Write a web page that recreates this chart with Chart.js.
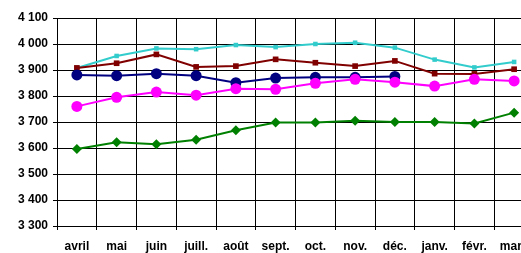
<!DOCTYPE html>
<html>
<head>
<meta charset="utf-8">
<script src="https://cdn.jsdelivr.net/npm/chart.js@4/dist/chart.umd.min.js"></script>
<style>
  html, body { margin: 0; padding: 0; background: #fff; overflow: hidden; }
  #wrap { width: 521px; height: 253px; overflow: hidden; }
</style>
</head>
<body>
<div id="wrap"><canvas id="chart" width="545" height="253"></canvas></div>
<script>
var months, cyanValues, redValues, navyValues, pinkValues, greenValues, yTicks;

months = ['avril', 'mai', 'juin', 'juill.', 'août', 'sept.', 'oct.', 'nov.', 'déc.', 'janv.', 'févr.', 'mars'];

cyanValues = [3908, 3954, 3983, 3980, 3996, 3988, 4000, 4005, 3986, 3940, 3910, 3931];
redValues = [3908, 3926, 3960, 3912, 3915, 3941, 3928, 3915, 3935, 3886, 3885, 3903];
navyValues = [3881, 3878, 3886, 3878, 3851, 3869, 3872, 3872, 3875, null, null, null];
pinkValues = [3760, 3795, 3815, 3803, 3828, 3826, 3849, 3864, 3853, 3838, 3864, 3858];
greenValues = [3596, 3622, 3614, 3632, 3668, 3698, 3698, 3705, 3700, 3700, 3694, 3736];

yTicks = { min: 3300, max: 4100, step: 100 };

function series(values, color, shape, radius) {
  return {
    data: values,
    borderColor: color,
    backgroundColor: color,
    borderWidth: 2,
    pointStyle: shape,
    pointRadius: radius,
    pointBorderWidth: 0,
    tension: 0,
    spanGaps: false
  };
}

function formatThousands(value) {
  var s = String(value);
  return s.replace(/\B(?=(\d{3})+(?!\d))/g, ' ');
}

var font = { family: '"Liberation Sans", Arial, sans-serif', size: 12, weight: 'bold' };

new Chart(document.getElementById('chart'), {
  type: 'line',
  data: {
    labels: months,
    datasets: [
      series(greenValues, '#008000', 'rectRot', 5),
      series(pinkValues, '#FF00FF', 'circle', 5.5),
      series(navyValues, '#000080', 'circle', 5.5),
      series(redValues, '#800000', 'rect', 4),
      series(cyanValues, '#33CCCC', 'rect', 3.2)
    ]
  },
  options: {
    responsive: false,
    animation: false,
    events: [],
    layout: { padding: { top: 18, right: 11, left: 0, bottom: 0 } },
    plugins: { legend: { display: false }, tooltip: { enabled: false } },
    scales: {
      x: {
        offset: true,
        grid: { offset: true, color: '#000', lineWidth: 1, tickLength: 4, drawTicks: true },
        border: { color: '#000', width: 1 },
        ticks: { color: '#000', font: font, padding: 9, maxRotation: 0, autoSkip: false },
        afterFit: function(scale) { scale.height = 27; }
      },
      y: {
        min: yTicks.min,
        max: yTicks.max,
        grid: { color: '#000', lineWidth: 1, tickLength: 4 },
        border: { color: '#000', width: 1 },
        ticks: {
          stepSize: yTicks.step,
          color: '#000',
          font: font,
          padding: 5,
          callback: function(v) { return formatThousands(v); }
        },
        afterFit: function(scale) { scale.width = 57; }
      }
    }
  }
});
</script>
</body>
</html>
